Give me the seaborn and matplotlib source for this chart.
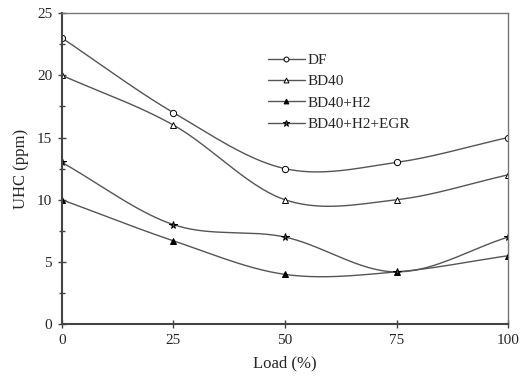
import numpy as np
import pandas as pd
import matplotlib
matplotlib.use("Agg")
import matplotlib.pyplot as plt
import seaborn as sns
from matplotlib.ticker import MultipleLocator

# ── Data ─────────────────────────────────────────────────────
load = [0, 25, 50, 75, 100]
uhc_df = [23, 17, 12.5, 13, 15]
uhc_bd40 = [20, 16, 10, 10, 12]
uhc_bd40_h2 = [10, 6.7, 4, 4.2, 5.5]
uhc_bd40_h2_egr = [13, 8, 7, 4.2, 7]

series = {
    "DF": uhc_df,
    "BD40": uhc_bd40,
    "BD40+H2": uhc_bd40_h2,
    "BD40+H2+EGR": uhc_bd40_h2_egr,
}
styles = {
    "DF": dict(marker="o", mfc="white", ms=4.5),
    "BD40": dict(marker="^", mfc="white", ms=4.5),
    "BD40+H2": dict(marker="^", mfc="black", ms=4.5),
    "BD40+H2+EGR": dict(marker="*", mfc="#555555", ms=5.5),
}

# ── Style ────────────────────────────────────────────────────
sns.set_theme(style="white")
plt.rcParams["font.family"] = ["Liberation Serif", "DejaVu Serif"]


def smooth(x, y, n=40, t=0.5):
    # Catmull-Rom style smoothing, like spreadsheet "smoothed line"
    x = np.asarray(x, float)
    y = np.asarray(y, float)
    px = np.concatenate([[2 * x[0] - x[1]], x, [2 * x[-1] - x[-2]]])
    py = np.concatenate([[2 * y[0] - y[1]], y, [2 * y[-1] - y[-2]]])
    xs, ys = [], []
    for i in range(1, len(px) - 2):
        p0, p1, p2, p3 = [np.array([px[j], py[j]]) for j in range(i - 1, i + 3)]
        c1 = p1 + (p2 - p0) * t / 3
        c2 = p2 - (p3 - p1) * t / 3
        s = np.linspace(0, 1, n)[:, None]
        b = ((1 - s) ** 3) * p1 + 3 * ((1 - s) ** 2) * s * c1 + 3 * (1 - s) * s ** 2 * c2 + s ** 3 * p2
        xs.append(b[:, 0])
        ys.append(b[:, 1])
    return np.concatenate(xs), np.concatenate(ys)


fig, ax = plt.subplots(figsize=(5.2, 3.85), dpi=100)
line_color = "#555555"

for name, vals in series.items():
    sx, sy = smooth(load, vals)
    ax.plot(sx, sy, color=line_color, lw=1.0)
    d = pd.DataFrame({"load": load, "uhc": vals})
    st = styles[name]
    sns.lineplot(data=d, x="load", y="uhc", ax=ax, linestyle="", marker=st["marker"],
                 markersize=st["ms"], markerfacecolor=st["mfc"],
                 markeredgecolor="black", markeredgewidth=0.7, color=line_color)
    # legend proxy
    ax.plot([], [], color=line_color, lw=1.0, marker=st["marker"], ms=st["ms"] - 1,
            mfc=st["mfc"], mec="black", mew=0.7, label=name)

ax.set_xlim(0, 100)
ax.set_ylim(0, 25)
ax.xaxis.set_major_locator(MultipleLocator(25))
ax.yaxis.set_major_locator(MultipleLocator(5))
ax.yaxis.set_minor_locator(MultipleLocator(2.5))
ax.tick_params(axis="both", which="major", direction="inout", length=6, width=1,
               color="#444444", labelsize=11, pad=4)
ax.tick_params(axis="y", which="minor", direction="inout", length=4, width=1,
               color="#444444", left=True)
ax.tick_params(axis="x", which="major", bottom=True)
ax.tick_params(axis="y", which="major", left=True)

for side in ["left", "bottom"]:
    ax.spines[side].set_color("#444444")
    ax.spines[side].set_linewidth(1.5)
for side in ["top", "right"]:
    ax.spines[side].set_color("#777777")
    ax.spines[side].set_linewidth(1.0)

ax.set_xlabel("Load (%)", fontsize=12, labelpad=6)
ax.set_ylabel("UHC (ppm)", fontsize=12, labelpad=6)

ax.legend(loc="upper left", bbox_to_anchor=(0.445, 0.895), frameon=False, fontsize=11,
          handlelength=2.4, handletextpad=0.2, labelspacing=0.5, borderpad=0)

fig.subplots_adjust(left=0.119, right=0.977, top=0.966, bottom=0.158)
fig.savefig("out.png", dpi=100)
